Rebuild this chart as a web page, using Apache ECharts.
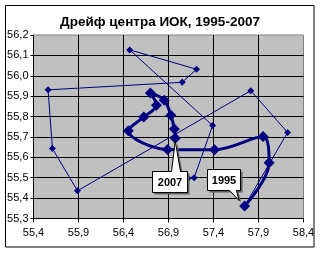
<!DOCTYPE html>
<html><head><meta charset="utf-8">
<script src="https://cdn.jsdelivr.net/npm/echarts@6/dist/echarts.min.js"></script>
<style>html,body{margin:0;padding:0;background:#fff}#c{width:320px;height:253px}</style>
</head><body><div id="c"></div>
<script>
const chartTitle = 'Дрейф центра ИОК, 1995-2007';
const xTickValues = [55.4, 55.9, 56.4, 56.9, 57.4, 57.9, 58.4];
const yTickValues = [55.3, 55.4, 55.5, 55.6, 55.7, 55.8, 55.9, 56.0, 56.1, 56.2];

// thick series (years 1995..2007)
const years   = [1995,1996,1997,1998,1999,2000,2001,2002,2003,2004,2005,2006,2007];
const thickX  = [57.746, 58.018, 57.951, 57.411, 56.889, 56.454, 56.625, 56.766, 56.699, 56.853, 56.926, 56.965, 56.975];
const thickY  = [55.361, 55.574, 55.702, 55.637, 55.639, 55.730, 55.798, 55.855, 55.916, 55.880, 55.806, 55.739, 55.694];

// thin series
const thinX = [57.746, 58.223, 57.814, 55.889, 55.610, 55.562, 57.052, 57.212, 56.469, 57.390, 57.185, 57.118];
const thinY = [55.361, 55.722, 55.927, 55.436, 55.643, 55.931, 55.968, 56.032, 56.127, 55.756, 55.500, 55.497];

const calloutYears = ['1995', '2007'];

const FONT = '"Liberation Sans", Arial, sans-serif';
const fmt = v => v.toFixed(1).replace('.', ',');
const navy = '#000080';

const chart = echarts.init(document.getElementById('c'), null, {renderer: 'canvas'});
const option = {
  animation: false,
  backgroundColor: '#fff',
  title: {
    text: chartTitle, left: 'center', top: 10,
    textStyle: {fontFamily: FONT, fontSize: 13.5, fontWeight: 'bold', color: '#000'}
  },
  grid: {left: 33.5, top: 35, width: 270, height: 183.5, show: true,
         backgroundColor: '#c0c0c0', borderColor: '#808080', borderWidth: 1},
  xAxis: {
    type: 'value', min: xTickValues[0], max: xTickValues[xTickValues.length-1],
    interval: +(xTickValues[1]-xTickValues[0]).toFixed(3),
    axisLine: {show: true, lineStyle: {color: '#000', width: 1}},
    axisTick: {show: true, inside: false, length: 4, lineStyle: {color: '#000'}},
    axisLabel: {formatter: fmt, color: '#000', fontFamily: FONT, fontSize: 11, margin: 9},
    splitLine: {show: true, showMaxLine: false, lineStyle: {color: '#000', width: 1}}
  },
  yAxis: {
    type: 'value', min: yTickValues[0], max: yTickValues[yTickValues.length-1],
    interval: +(yTickValues[1]-yTickValues[0]).toFixed(3),
    axisLine: {show: true, lineStyle: {color: '#000', width: 1}},
    axisTick: {show: true, inside: false, length: 3, lineStyle: {color: '#000'}},
    axisLabel: {formatter: fmt, color: '#000', fontFamily: FONT, fontSize: 11, margin: 5},
    splitLine: {show: true, showMaxLine: false, lineStyle: {color: '#000', width: 1}}
  },
  series: [
    {
      type: 'line', name: 'thin',
      data: thinX.map((x, i) => [x, thinY[i]]),
      lineStyle: {color: navy, width: 1},
      itemStyle: {color: navy},
      symbol: 'diamond', symbolSize: 7, showAllSymbol: true, z: 2
    },
    {
      type: 'line', name: 'thick',
      data: thickX.map((x, i) => [x, thickY[i]]),
      smooth: 0.35,
      lineStyle: {color: navy, width: 3},
      itemStyle: {color: navy},
      symbol: 'diamond', symbolSize: 11, showAllSymbol: true, z: 3
    }
  ]
};
chart.setOption(option);

function px(i) { return chart.convertToPixel({gridIndex: 0}, [thickX[i], thickY[i]]); }
const r = v => Math.round(v) + 0.5;

function calloutGraphic(text, p, box, base, tip, baseOnTop) {
  const bx0 = r(p[0] + box[0]), bx1 = r(p[0] + box[1]);
  const by0 = r(p[1] + box[2]), by1 = r(p[1] + box[3]);
  const b0 = r(p[0] + base[0]), b1 = r(p[0] + base[1]);
  const t = [p[0] + tip[0], p[1] + tip[1]];
  let pts;
  if (baseOnTop) {
    pts = [[bx0, by0], [b0, by0], t, [b1, by0], [bx1, by0], [bx1, by1], [bx0, by1]];
  } else {
    pts = [[bx0, by0], [bx1, by0], [bx1, by1], [b1, by1], t, [b0, by1], [bx0, by1]];
  }
  const shadow = pts.map(q => [q[0] + 2, q[1] + 2]);
  return [
    {type: 'polygon', shape: {points: shadow}, style: {fill: '#606060'}, z: 100, silent: true},
    {type: 'polygon', shape: {points: pts}, style: {fill: '#fff', stroke: '#000', lineWidth: 1}, z: 101, silent: true},
    {type: 'text', x: (bx0 + bx1) / 2, y: (by0 + by1) / 2 + 0.5, z: 102, silent: true,
     style: {text: text, font: 'bold 11px ' + FONT, fill: '#000', align: 'center', verticalAlign: 'middle'}}
  ];
}

const p1995 = px(years.indexOf(+calloutYears[0]));
const p2007 = px(years.indexOf(+calloutYears[1]));
const elems = [
  {type: 'rect', shape: {x: 5.5, y: 5.5, width: 308.5, height: 241.5},
   style: {fill: 'none', stroke: '#000', lineWidth: 1}, z: 99, silent: true}
]
  .concat(calloutGraphic(calloutYears[0], p1995, [-37.5, -5, -37.5, -16], [-16, -9], [-5.5, -5.5], false))
  .concat(calloutGraphic(calloutYears[1], p2007, [-23.5, 11.5, 32.5, 53.5], [-4, 4.5], [0, 3], true));
chart.setOption({graphic: {elements: elems}});
</script></body></html>
